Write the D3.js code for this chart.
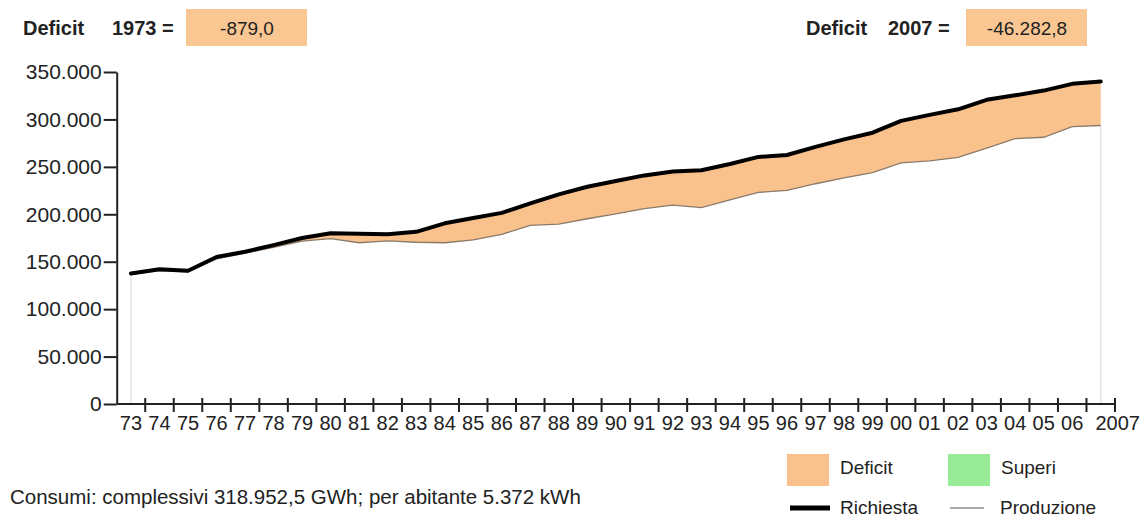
<!DOCTYPE html>
<html>
<head>
    <meta charset="utf-8">
    <title>Deficit Richiesta / Produzione</title>
    <style>
        body { margin: 0; background: #fff; }
        svg { font-family: Arial, "Liberation Sans", sans-serif; }
        .lbl { font-size: 20px; fill: #222; }
        .hdr { font-size: 20px; font-weight: bold; fill: #222; }
    </style>
    <script src="https://cdn.jsdelivr.net/npm/d3@7/dist/d3.min.js"></script>
</head>
<body>
<div id="chart"></div>
<script>
// years on the x axis
var years = ["73","74","75","76","77","78","79","80","81","82","83","84","85","86","87","88","89",
             "90","91","92","93","94","95","96","97","98","99","00","01","02","03","04","05","06","2007"];

// GWh
var richiesta = [137500,142000,140500,155000,160500,167500,175000,180000,179500,179000,181500,190500,196000,
                 201500,211500,221000,229000,235100,241000,245000,246500,253000,260500,262500,271000,279000,
                 286000,298500,304800,310700,320700,325400,330400,337500,339900];
var produzione = [136621,140500,139300,153000,159000,165200,171700,174400,170000,172000,170500,170000,173000,
                  178800,188400,189700,195300,200400,205900,209700,207100,215100,223100,225100,232200,238300,
                  244000,254200,256400,260100,269700,279800,281200,292500,293600];

var yTicks = [0,50000,100000,150000,200000,250000,300000,350000];

// header values
var deficit1973 = -879.0;
var deficit2007 = -46282.8;

var W = 1141, H = 517;
var mLeft = 116.7, mRight = 1115, mTop = 72, mBottom = 404;

var it = d3.formatLocale({decimal: ",", thousands: ".", grouping: [3], currency: ["", ""], minus: "-"});
var fmtInt = it.format(",.0f");
var fmtDec = it.format(",.1f");

var svg = d3.select("#chart").append("svg")
    .attr("width", W)
    .attr("height", H);

var x = d3.scaleBand().domain(years).range([mLeft, mRight]).padding(0);
var y = d3.scaleLinear().domain([0, 350000]).range([mBottom, mTop]);
var cx = function(d, i) { return x(years[i]) + x.bandwidth() / 2; };

var rows = years.map(function(yr, i) {
    return { year: yr, r: richiesta[i], p: produzione[i] };
});

// deficit / superi areas
var deficitArea = d3.area()
    .x(function(d, i) { return cx(d, i); })
    .y0(function(d) { return y(d.p); })
    .y1(function(d) { return y(Math.max(d.r, d.p)); });

var superiArea = d3.area()
    .x(function(d, i) { return cx(d, i); })
    .y0(function(d) { return y(d.r); })
    .y1(function(d) { return y(Math.max(d.r, d.p)); });

svg.append("path").datum(rows)
    .attr("d", deficitArea)
    .attr("fill", "#f9c28d");

svg.append("path").datum(rows)
    .attr("d", superiArea)
    .attr("fill", "#98ec98");

// faint drop lines at the ends
var ends = [0, rows.length - 1];
svg.selectAll(".drop").data(ends).enter().append("line")
    .attr("class", "drop")
    .attr("x1", function(i) { return cx(null, i); })
    .attr("x2", function(i) { return cx(null, i); })
    .attr("y1", function(i) { return y(Math.min(rows[i].p, rows[i].r)); })
    .attr("y2", mBottom)
    .attr("stroke", "#e4e4e4")
    .attr("stroke-width", 1.5);

var prodLine = d3.line()
    .x(function(d, i) { return cx(d, i); })
    .y(function(d) { return y(d.p); });

var richLine = d3.line()
    .x(function(d, i) { return cx(d, i); })
    .y(function(d) { return y(d.r); });

svg.append("path").datum(rows)
    .attr("d", prodLine)
    .attr("fill", "none")
    .attr("stroke", "#8a7a6a")
    .attr("stroke-width", 1.3);

svg.append("path").datum(rows)
    .attr("d", richLine)
    .attr("fill", "none")
    .attr("stroke", "#000")
    .attr("stroke-width", 4)
    .attr("stroke-linejoin", "round")
    .attr("stroke-linecap", "round");

// y axis
var yAxis = svg.append("g")
    .attr("transform", "translate(" + mLeft + ",0)")
    .call(d3.axisLeft(y).tickValues(yTicks).tickSize(13).tickSizeOuter(0).tickPadding(2)
        .tickFormat(function(d) { return fmtInt(d); }));
yAxis.selectAll("path, line").attr("stroke", "#222").attr("stroke-width", 2);
yAxis.selectAll("text").attr("class", "lbl").style("font-size", "21px").attr("fill", "#222");

// x axis: line, ticks at band edges, labels at band centres
var edges = years.map(function(d) { return x(d); }).concat([mRight]);

svg.append("line")
    .attr("x1", mLeft).attr("x2", mRight)
    .attr("y1", mBottom).attr("y2", mBottom)
    .attr("stroke", "#222").attr("stroke-width", 2);

svg.selectAll(".xtick").data(edges.slice(1)).enter().append("line")
    .attr("class", "xtick")
    .attr("x1", function(d) { return d; })
    .attr("x2", function(d) { return d; })
    .attr("y1", mBottom - 6)
    .attr("y2", mBottom + 8)
    .attr("stroke", "#222").attr("stroke-width", 2);

svg.selectAll(".xlbl").data(years).enter().append("text")
    .attr("class", "lbl")
    .attr("x", function(d, i) { return cx(d, i) + (i === years.length - 1 ? 17 : 0); })
    .attr("y", 430)
    .attr("text-anchor", "middle")
    .text(function(d) { return d; });

// header boxes
var headers = [
    { label: "Deficit", year: "1973 =", value: fmtDec(deficit1973), x0: 23, x1: 112, bx: 186 },
    { label: "Deficit", year: "2007 =", value: fmtDec(deficit2007), x0: 806, x1: 888, bx: 966 }
];

var hg = svg.selectAll(".hdrg").data(headers).enter().append("g");
hg.append("rect")
    .attr("x", function(d) { return d.bx; })
    .attr("y", 9)
    .attr("width", 121)
    .attr("height", 37)
    .attr("fill", "#fac692");
hg.append("text").attr("class", "hdr")
    .attr("x", function(d) { return d.x0; }).attr("y", 35)
    .text(function(d) { return d.label; });
hg.append("text").attr("class", "hdr")
    .attr("x", function(d) { return d.x1; }).attr("y", 35)
    .text(function(d) { return d.year; });
hg.append("text").attr("class", "lbl")
    .attr("x", function(d) { return d.bx + 61; }).attr("y", 35)
    .attr("text-anchor", "middle")
    .style("font-size", "19px")
    .text(function(d) { return d.value; });

// footer note
svg.append("text").attr("class", "lbl")
    .attr("x", 10).attr("y", 504)
    .style("font-size", "20.5px")
    .text("Consumi: complessivi 318.952,5 GWh; per abitante 5.372 kWh");

// legend
var legend = [
    { name: "Deficit", kind: "box", color: "#f9c28d", x: 787, y: 468 },
    { name: "Superi", kind: "box", color: "#98ec98", x: 948, y: 468 },
    { name: "Richiesta", kind: "thick", color: "#000", x: 790, y: 508 },
    { name: "Produzione", kind: "thin", color: "#555", x: 950, y: 508 }
];

var lg = svg.selectAll(".leg").data(legend).enter().append("g");
lg.filter(function(d) { return d.kind === "box"; }).append("rect")
    .attr("x", function(d) { return d.x; })
    .attr("y", function(d) { return d.y - 14; })
    .attr("width", 42).attr("height", 32)
    .attr("fill", function(d) { return d.color; });
lg.filter(function(d) { return d.kind !== "box"; }).append("line")
    .attr("x1", function(d) { return d.x; })
    .attr("x2", function(d) { return d.x + (d.kind === "thick" ? 40 : 34); })
    .attr("y1", function(d) { return d.y; })
    .attr("y2", function(d) { return d.y; })
    .attr("stroke", function(d) { return d.color; })
    .attr("stroke-width", function(d) { return d.kind === "thick" ? 5 : 1.2; });
lg.append("text").attr("class", "lbl")
    .attr("x", function(d) { return d.x + (d.kind === "box" ? 53 : 50) ; })
    .attr("y", function(d) { return d.y + 6; })
    .style("font-size", "19px")
    .text(function(d) { return d.name; });
</script>
</body>
</html>
